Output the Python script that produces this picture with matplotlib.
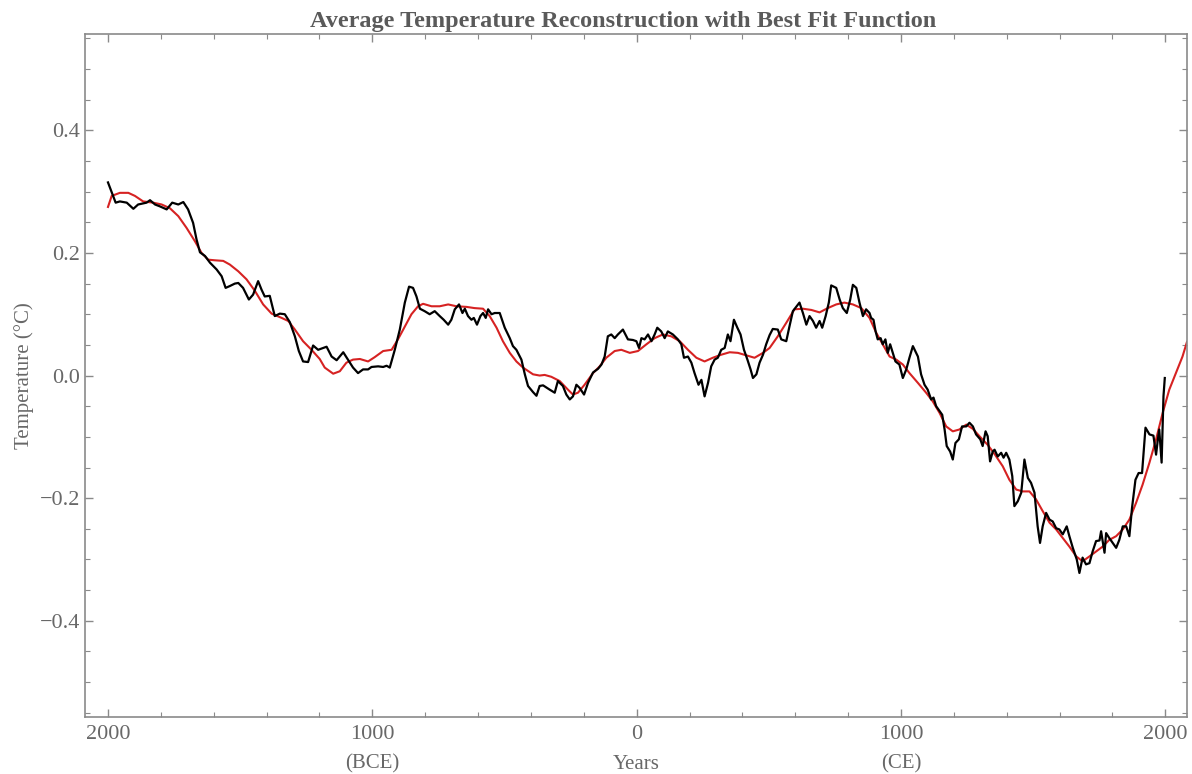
import numpy as np
import matplotlib
matplotlib.use("Agg")
import matplotlib.pyplot as plt
from matplotlib.ticker import MultipleLocator, FuncFormatter

# reconstruction (black), years: negative = BCE
recon_years = [-2000, -1971, -1955, -1929, -1904, -1886, -1854, -1841, -1822, -1804,
               -1778, -1757, -1734, -1715, -1697, -1678, -1665, -1652, -1633, -1614,
               -1589, -1570, -1555, -1539, -1520, -1507, -1489, -1467, -1451, -1432,
               -1419, -1407, -1388, -1369, -1350, -1331, -1312, -1293, -1278, -1262,
               -1243, -1224, -1205, -1173, -1154, -1135, -1110, -1092, -1073, -1054,
               -1035, -1016, -1003, -978, -959, -946, -934, -915, -896, -877,
               -861, -846, -833, -820, -802, -783, -764, -745, -730, -713,
               -701, -688, -672, -659, -650, -638, -625, -616, -604, -591,
               -581, -571, -562, -549, -537, -518, -499, -480, -468, -455,
               -436, -423, -411, -392, -379, -367, -354, -329, -310, -298,
               -279, -266, -253, -241, -228, -216, -199, -184, -165, -146,
               -133, -121, -109, -96, -83, -71, -52, -33, -14, -1,
               9, 18, 30, 43, 56, 68, 78, 93, 106, 118,
               137, 156, 169, 179, 194, 207, 219, 234, 245, 257,
               270, 282, 295, 307, 320, 333, 345, 355, 368, 381,
               393, 406, 419, 431, 440, 453, 465, 478, 490, 503,
               515, 534, 547, 566, 578, 591, 616, 629, 642, 654,
               667, 679, 692, 702, 715, 727, 736, 755, 768, 780,
               795, 808, 818, 831, 843, 856, 868, 881, 887, 896,
               904, 912, 923, 931, 941, 950, 959, 969, 979, 994,
               1007, 1020, 1032, 1045, 1064, 1076, 1089, 1101, 1114, 1123,
               1133, 1146, 1156, 1165, 1173, 1186, 1196, 1206, 1219, 1231,
               1247, 1259, 1272, 1284, 1300, 1309, 1320, 1328, 1337, 1347,
               1354, 1366, 1379, 1388, 1398, 1410, 1421, 1429, 1442, 1455,
               1467, 1480, 1492, 1505, 1517, 1526, 1536, 1549, 1562, 1574,
               1587, 1599, 1612, 1627, 1637, 1650, 1665, 1675, 1687, 1700,
               1713, 1725, 1738, 1751, 1757, 1770, 1776, 1788, 1801, 1814,
               1826, 1839, 1852, 1864, 1874, 1887, 1899, 1912, 1925, 1940,
               1955, 1965, 1971, 1977, 1986, 1993, 1998]
recon_temp = [0.315, 0.282, 0.284, 0.282, 0.272, 0.279, 0.282, 0.286, 0.279, 0.276,
              0.271, 0.282, 0.279, 0.283, 0.271, 0.249, 0.222, 0.201, 0.195, 0.184,
              0.173, 0.162, 0.143, 0.146, 0.150, 0.151, 0.143, 0.124, 0.132, 0.154,
              0.140, 0.129, 0.130, 0.097, 0.101, 0.100, 0.087, 0.064, 0.040, 0.023,
              0.022, 0.049, 0.042, 0.047, 0.031, 0.025, 0.038, 0.026, 0.013, 0.004,
              0.010, 0.010, 0.014, 0.015, 0.014, 0.016, 0.013, 0.042, 0.075, 0.119,
              0.145, 0.143, 0.129, 0.109, 0.105, 0.100, 0.105, 0.097, 0.091, 0.083,
              0.091, 0.108, 0.116, 0.102, 0.109, 0.097, 0.091, 0.094, 0.083, 0.097,
              0.102, 0.094, 0.108, 0.100, 0.102, 0.102, 0.078, 0.061, 0.048, 0.042,
              0.026, 0.002, -0.017, -0.027, -0.033, -0.017, -0.016, -0.023, -0.028, -0.009,
              -0.017, -0.031, -0.039, -0.034, -0.015, -0.020, -0.031, -0.012, 0.005, 0.011,
              0.018, 0.031, 0.064, 0.067, 0.061, 0.067, 0.075, 0.059, 0.058, 0.056,
              0.045, 0.061, 0.059, 0.067, 0.056, 0.067, 0.078, 0.072, 0.061, 0.072,
              0.067, 0.059, 0.051, 0.029, 0.031, 0.021, 0.004, -0.015, -0.007, -0.034,
              -0.012, 0.015, 0.026, 0.029, 0.042, 0.045, 0.067, 0.056, 0.091, 0.078,
              0.067, 0.042, 0.026, 0.010, -0.004, 0.002, 0.021, 0.034, 0.051, 0.066,
              0.076, 0.075, 0.059, 0.056, 0.080, 0.105, 0.119, 0.102, 0.083, 0.097,
              0.089, 0.078, 0.089, 0.078, 0.097, 0.119, 0.147, 0.143, 0.124, 0.110,
              0.102, 0.124, 0.148, 0.143, 0.119, 0.097, 0.108, 0.102, 0.094, 0.091,
              0.072, 0.059, 0.061, 0.051, 0.059, 0.037, 0.051, 0.037, 0.023, 0.018,
              -0.004, 0.010, 0.029, 0.048, 0.031, 0.002, -0.015, -0.023, -0.039, -0.036,
              -0.050, -0.058, -0.064, -0.088, -0.115, -0.124, -0.137, -0.110, -0.104, -0.083,
              -0.083, -0.077, -0.083, -0.096, -0.104, -0.115, -0.091, -0.099, -0.140, -0.124,
              -0.121, -0.132, -0.126, -0.134, -0.126, -0.137, -0.164, -0.213, -0.205, -0.191,
              -0.137, -0.167, -0.175, -0.191, -0.246, -0.273, -0.246, -0.224, -0.235, -0.238,
              -0.249, -0.251, -0.259, -0.246, -0.262, -0.281, -0.300, -0.322, -0.297, -0.308,
              -0.306, -0.287, -0.270, -0.269, -0.254, -0.289, -0.257, -0.265, -0.273, -0.281,
              -0.268, -0.246, -0.246, -0.262, -0.216, -0.170, -0.159, -0.159, -0.085, -0.096,
              -0.098, -0.129, -0.107, -0.088, -0.142, -0.034, -0.004]

# best fit function (red)
fit_years = [-2000, -1986, -1955, -1923, -1898, -1867, -1829, -1797, -1766, -1734,
             -1703, -1671, -1646, -1621, -1596, -1564, -1539, -1507, -1476, -1444,
             -1413, -1381, -1343, -1318, -1293, -1262, -1230, -1199, -1180, -1148,
             -1123, -1098, -1073, -1047, -1016, -991, -959, -927, -903, -877,
             -852, -827, -808, -776, -745, -713, -682, -644, -613, -581,
             -556, -530, -506, -480, -455, -430, -392, -367, -348, -323,
             -291, -260, -241, -222, -197, -165, -140, -115, -83, -58,
             -26, 5, 37, 68, 99, 131, 163, 194, 226, 257,
             288, 320, 352, 383, 415, 446, 478, 503, 534, 566,
             597, 629, 661, 692, 723, 755, 786, 818, 850, 881,
             906, 931, 957, 982, 1007, 1032, 1064, 1095, 1120, 1146,
             1171, 1196, 1221, 1247, 1272, 1297, 1328, 1354, 1385, 1410,
             1436, 1461, 1486, 1511, 1536, 1562, 1587, 1612, 1637, 1663,
             1687, 1713, 1738, 1763, 1788, 1814, 1839, 1864, 1889, 1914,
             1940, 1965, 1990, 2015, 2040, 2065, 2082]
fit_temp = [0.275, 0.293, 0.298, 0.298, 0.293, 0.284, 0.282, 0.279, 0.273, 0.260,
            0.241, 0.219, 0.200, 0.189, 0.188, 0.187, 0.181, 0.170, 0.157, 0.138,
            0.116, 0.101, 0.094, 0.089, 0.075, 0.056, 0.042, 0.027, 0.013, 0.003,
            0.007, 0.021, 0.026, 0.027, 0.023, 0.030, 0.040, 0.042, 0.059, 0.080,
            0.100, 0.113, 0.117, 0.113, 0.113, 0.116, 0.113, 0.112, 0.110, 0.109,
            0.097, 0.078, 0.056, 0.037, 0.023, 0.013, 0.002, 0.000, 0.001, -0.002,
            -0.009, -0.023, -0.031, -0.028, -0.015, 0.004, 0.015, 0.029, 0.040, 0.042,
            0.037, 0.040, 0.051, 0.061, 0.067, 0.064, 0.056, 0.042, 0.029, 0.023,
            0.029, 0.034, 0.038, 0.037, 0.033, 0.029, 0.037, 0.045, 0.064, 0.086,
            0.108, 0.109, 0.107, 0.103, 0.110, 0.116, 0.119, 0.116, 0.110, 0.094,
            0.070, 0.051, 0.031, 0.026, 0.018, 0.004, -0.012, -0.028, -0.042, -0.061,
            -0.083, -0.091, -0.088, -0.080, -0.087, -0.099, -0.113, -0.128, -0.148, -0.170,
            -0.186, -0.189, -0.189, -0.202, -0.221, -0.240, -0.251, -0.265, -0.279, -0.295,
            -0.303, -0.295, -0.287, -0.279, -0.268, -0.262, -0.251, -0.235, -0.208, -0.178,
            -0.142, -0.104, -0.061, -0.023, 0.004, 0.031, 0.055]

x_ticks = [-2000, -1000, 0, 1000, 2000]
x_tick_labels = ["2000", "1000", "0", "1000", "2000"]
y_ticks = [-0.4, -0.2, 0.0, 0.2, 0.4]

text_color = "#686868"
plt.rcParams["font.family"] = ["Liberation Serif", "DejaVu Serif"]

fig = plt.figure(figsize=(11.92, 7.74), dpi=100)
ax = fig.add_axes([0.0713, 0.0736, 0.9245, 0.8824])

ax.plot(recon_years, recon_temp, color="black", lw=1.6, zorder=3)
ax.plot(fit_years, fit_temp, color="#d62222", lw=1.5, zorder=2)

ax.set_xlim(-2087, 2082)
ax.set_ylim(-0.557, 0.557)

ax.set_xticks(x_ticks)
ax.set_xticklabels(x_tick_labels)
ax.set_yticks(y_ticks)
ax.yaxis.set_major_formatter(FuncFormatter(lambda v, p: f"{v:.1f}".replace("-", "\u2212")))
ax.xaxis.set_minor_locator(MultipleLocator(200))
ax.yaxis.set_minor_locator(MultipleLocator(0.05))

ax.tick_params(which="both", direction="in", top=True, right=True,
               color="#8a8a8a", labelsize=16, labelcolor=text_color)
ax.tick_params(which="major", length=6, width=1)
ax.tick_params(which="minor", length=3.5, width=0.8)
ax.tick_params(axis="x", pad=6)
for sp in ax.spines.values():
    sp.set_color("#8a8a8a")
    sp.set_linewidth(1.2)

ax.set_title("Average Temperature Reconstruction with Best Fit Function",
             fontsize=17.5, fontweight="bold", color="#5a5a5a", pad=5, x=0.488)
ax.set_ylabel("Temperature (°C)", fontsize=15, color=text_color, labelpad=4)

# axis annotations below the ticks
for xpos, label in [(0, "Years"), (-1000, "(BCE)"), (1000, "(CE)")]:
    ax.text(xpos, -0.069, label, transform=ax.get_xaxis_transform(),
            ha="center", va="center", fontsize=15, color=text_color)

fig.savefig("out.png", dpi=100)
